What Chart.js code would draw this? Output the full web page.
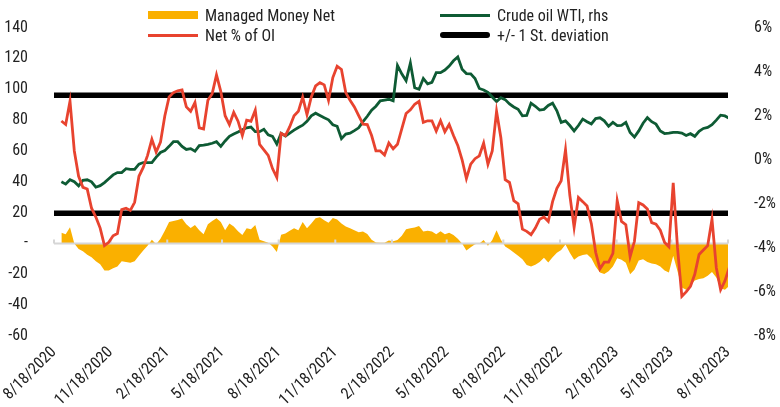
<!DOCTYPE html>
<html>
<head>
<meta charset="utf-8">
<script src="https://cdn.jsdelivr.net/npm/chart.js@4.4.0/dist/chart.umd.min.js"></script>
<style>
html, body { margin: 0; padding: 0; background: #fff; }
#wrap { position: relative; width: 780px; height: 407px; }
#myChart { position: absolute; left: 0; top: 0; }
.leg { position: absolute; display: flex; align-items: center; font-family: Roboto, sans-serif; font-stretch: condensed; font-size: 16px; color: #222; white-space: nowrap; }
.sw { width: 50px; margin-right: 7px; }
</style>
</head>
<body>
<div id="wrap">
  <canvas id="myChart" width="780" height="407"></canvas>
  <div id="legend"></div>
</div>
<script>
// weekly observations, first one 8/30/2020
var firstWeek = '8/30/2020';

var tickLabels = ['8/18/2020', '11/18/2020', '2/18/2021', '5/18/2021', '8/18/2021', '11/18/2021',
    '2/18/2022', '5/18/2022', '8/18/2022', '11/18/2022', '2/18/2023', '5/18/2023', '8/18/2023'];

// Managed Money Net (lhs)
var managedMoney = [
    7, 6, 10.5, 0, -3.5, -5, -7.3, -9, -11.5, -13.5,
    -17.5, -17.5, -16, -15, -11.5, -12, -12.5, -11.5, -8, -4.5,
    -1.5, 2.5, -0.5, 3, 8.2, 14, 14.5, 15.3, 16.2, 12.5,
    10, 12, 8.5, 6, 12.5, 14.5, 16.4, 14, 8.5, 13,
    11, 8, 5.5, 9.8, 9.3, 12, 2.5, 1.5, 0.5, -2,
    -5.5, 5.6, 6.5, 8.2, 9.9, 8.5, 14, 9.8, 13, 16.3,
    17, 15, 13.5, 16.5, 15.5, 13, 11, 9.8, 8.6, 7.3,
    7.8, 6.2, 2.5, 0.6, 0.5, 0.5, 2, 1.5, 2.2, 5,
    9.3, 9.9, 10.3, 11.4, 7.8, 8.2, 7.8, 6, 8, 6,
    7, 5.5, 3, 0, -4.5, -2.5, -0.5, 0, 2.2, -1.5,
    2.2, 8.5, 2.5, -2, -3.7, -5.8, -8, -10.3, -14, -15,
    -13.8, -12, -9.3, -12.3, -9, -6, -4.3, -0.6, -6, -10.5,
    -8.5, -7.5, -7, -9.5, -15, -18.8, -19.8, -18, -15, -9.5,
    -10.5, -12.5, -20, -17, -11, -10.3, -12, -13, -13.5, -15,
    -17.5, -18.8, -8, -18, -28.5, -30, -27, -24, -23, -22.5,
    -21, -18.5, -22, -29, -30, -27.5
];

// Crude oil WTI
var crudeWti = [
    40, 38.5, 41.3, 40, 37.4, 41, 41.3, 40, 36.5, 37.5,
    39.5, 42, 44.5, 46, 46, 48.5, 48, 48, 51.5, 52.5,
    52.5, 52.5, 56, 59, 60.2, 63, 66, 66, 63, 61,
    61.5, 59.8, 63.5, 63.8, 64.3, 65, 66, 63, 66.5, 69.5,
    71, 72.3, 73.8, 75, 75.5, 72.5, 72.5, 74, 70.5, 69.5,
    64.5, 71.4, 69.7, 71.6, 73.5, 75.2, 76.7, 79.2, 82.8, 84.5,
    83, 81.5, 80.2, 77, 76, 68, 71, 71.5, 73.2, 75,
    79, 82.5, 86.5, 89, 92.5, 93, 93.5, 92.5, 115.5, 110,
    105.5, 117, 101, 100, 107, 103.5, 104.5, 110.8, 110.8, 112.5,
    115, 118.5, 121, 113, 110.2, 110, 107, 100.5, 99.5, 98,
    95, 92, 94.5, 93.3, 90.5, 88.5, 87, 82.8, 83, 91,
    89, 86.5, 87, 89.5, 91, 86, 78.5, 79.5, 76.5, 73,
    76.5, 80.7, 79, 77.5, 81, 81.5, 79.5, 76, 78.5, 76.4,
    76.6, 78.5, 72, 69, 73, 78, 81.6, 79, 77.4, 73,
    71.3, 71.5, 72, 72, 71.6, 70, 71.2, 69.5, 72.8, 74.6,
    75.3, 77, 80, 83.2, 82.7, 81.2
];

// Net % of OI (rhs)
var netPctOi = [
    1.76, 1.6, 2.66, 0.4, -0.75, -1.25, -1.33, -2.2, -2.6, -3.1,
    -3.9, -3.75, -3.45, -3.35, -2.26, -2.2, -2.3, -1.93, -0.75, -0.35,
    0.2, 0.93, 0.35, 0.8, 1.99, 2.85, 3.05, 3.13, 3.17, 2.4,
    2.2, 2.6, 1.45, 1.4, 2.7, 3.0, 3.85, 3.1, 2.0, 1.6,
    2.15, 1.75, 1.1, 1.8, 1.75, 2.25, 0.7, 0.45, 0.2, -0.4,
    -0.8, 1.2, 1.1, 1.5, 2.0, 2.2, 2.85, 2.05, 2.85, 3.35,
    3.5, 3.4, 2.7, 3.73, 4.25, 4.1, 3.05, 2.7, 2.4, 2.0,
    1.62, 1.6, 1.1, 0.4, 0.4, 0.22, 0.76, 0.5, 0.7, 1.4,
    2.1, 2.27, 2.52, 2.65, 1.7, 1.77, 1.77, 1.3, 1.77, 1.27,
    1.6, 1.1, 0.65, 0.0, -0.85, -0.2, 0.05, 0.18, 0.76, -0.2,
    0.4, 2.2, 1.0, -0.9, -1.03, -1.86, -2.0, -3.15, -3.25, -3.4,
    -3.1, -2.7, -2.6, -2.8, -1.9, -1.3, -0.95, 0.45, -1.6, -3.07,
    -1.71, -1.9, -2.1, -2.9, -4.2, -4.95, -4.65, -4.65, -4.25, -1.85,
    -2.8, -2.95, -4.4, -3.7, -1.95, -2.05, -2.24, -2.85, -2.92, -3.2,
    -3.75, -3.95, -1.05, -4.0, -6.2, -6.0, -5.75, -5.2, -4.3, -4.1,
    -3.9, -2.7, -4.9, -5.9, -5.5, -4.9
];

// +/- 1 standard deviation of Net % of OI
var stdUpper = 2.93;
var stdLower = -2.43;

var DAY = 86400000;
function parseDate(s) {
    var p = s.split('/');
    return Date.UTC(+p[2], +p[0] - 1, +p[1]);
}
var origin = parseDate(tickLabels[0]);
var tickDays = tickLabels.map(function (s) { return (parseDate(s) - origin) / DAY; });
var start = (parseDate(firstWeek) - origin) / DAY;
var weekDays = managedMoney.map(function (v, i) { return start + 7 * i; });

function toPoints(values) {
    return values.map(function (v, i) { return { x: weekDays[i], y: v }; });
}
var xMin = tickDays[0];
var xMax = tickDays[tickDays.length - 1];

// Roboto at its condensed width (weight slot carries the stretch keyword into the canvas font string)
var TICK_FONT = { family: 'Roboto, sans-serif', size: 16, weight: 'condensed' };
var TEXT = '#222222';
var ORANGE = '#FAB000';
var RED = '#E8432F';
var GREEN = '#0E5B34';

// gray zero axis with small tick marks, drawn just above the area
var zeroAxis = {
    id: 'zeroAxis',
    afterDatasetDraw: function (chart, args) {
        if (chart.data.datasets[args.index].label !== 'Managed Money Net') return;
        var ctx = chart.ctx, area = chart.chartArea;
        var y0 = chart.scales.y.getPixelForValue(0);
        ctx.save();
        ctx.strokeStyle = '#d6d6d6';
        ctx.lineWidth = 2;
        ctx.beginPath();
        ctx.moveTo(area.left, y0);
        ctx.lineTo(area.right, y0);
        chart.scales.x.ticks.forEach(function (t) {
            var px = chart.scales.x.getPixelForValue(t.value);
            ctx.moveTo(px, y0);
            ctx.lineTo(px, y0 - 4);
        });
        ctx.stroke();
        ctx.restore();
    }
};

var ctx = document.getElementById('myChart').getContext('2d');
var myChart = new Chart(ctx, {
    type: 'line',
    data: {
        datasets: [
            {
                label: 'Net % of OI',
                data: toPoints(netPctOi),
                yAxisID: 'y1',
                borderColor: RED,
                borderWidth: 2.8,
                pointRadius: 0,
                tension: 0,
                order: 1
            },
            {
                label: 'Crude oil WTI, rhs',
                data: toPoints(crudeWti),
                yAxisID: 'y',
                borderColor: GREEN,
                borderWidth: 2.8,
                pointRadius: 0,
                tension: 0,
                order: 2
            },
            {
                label: '+/- 1 St. deviation',
                data: [{ x: xMin, y: stdUpper }, { x: xMax, y: stdUpper }],
                yAxisID: 'y1',
                borderColor: '#000000',
                borderWidth: 5.5,
                pointRadius: 0,
                order: 3
            },
            {
                label: 'lower',
                data: [{ x: xMin, y: stdLower }, { x: xMax, y: stdLower }],
                yAxisID: 'y1',
                borderColor: '#000000',
                borderWidth: 5.5,
                pointRadius: 0,
                order: 3
            },
            {
                label: 'Managed Money Net',
                data: toPoints(managedMoney),
                yAxisID: 'y',
                borderWidth: 0,
                borderColor: ORANGE,
                backgroundColor: ORANGE,
                fill: 'origin',
                pointRadius: 0,
                tension: 0,
                order: 4
            }
        ]
    },
    options: {
        responsive: false,
        animation: false,
        events: [],
        layout: { padding: { top: 26, left: 0, right: 0, bottom: 0 } },
        plugins: {
            legend: { display: false },
            tooltip: { enabled: false }
        },
        scales: {
            x: {
                type: 'linear',
                min: xMin,
                max: xMax,
                grid: { display: false },
                border: { display: false },
                afterBuildTicks: function (axis) {
                    axis.ticks = tickDays.map(function (d) { return { value: d }; });
                },
                afterFit: function (axis) { axis.height = 71; },
                ticks: {
                    autoSkip: false,
                    maxRotation: 45,
                    minRotation: 45,
                    padding: -1,
                    color: TEXT,
                    font: TICK_FONT,
                    callback: function (v) {
                        var k = tickDays.indexOf(v);
                        return k >= 0 ? tickLabels[k] : '';
                    }
                }
            },
            y: {
                position: 'left',
                min: -60,
                max: 140,
                grid: { display: false },
                border: { display: false },
                afterFit: function (axis) { axis.width = 54; },
                ticks: {
                    stepSize: 20,
                    padding: 18,
                    color: TEXT,
                    font: TICK_FONT,
                    callback: function (v) { return v === 0 ? '-' : v; }
                }
            },
            y1: {
                position: 'right',
                min: -8,
                max: 6,
                grid: { display: false },
                border: { display: false },
                afterFit: function (axis) { axis.width = 52; },
                ticks: {
                    stepSize: 2,
                    padding: 18,
                    color: TEXT,
                    font: TICK_FONT,
                    callback: function (v) { return v + '%'; }
                }
            }
        }
    },
    plugins: [zeroAxis]
});

// legend in two columns
var legendItems = [
    { label: 'Managed Money Net', color: ORANGE, h: 8, left: 148, top: 5, round: false },
    { label: 'Crude oil WTI, rhs', color: GREEN, h: 3, left: 440, top: 5, round: false },
    { label: 'Net % of OI', color: RED, h: 3, left: 148, top: 25, round: false },
    { label: '+/- 1 St. deviation', color: '#000', h: 6, left: 440, top: 25, round: true }
];
var legendBox = document.getElementById('legend');
legendItems.forEach(function (it) {
    var d = document.createElement('div');
    d.className = 'leg';
    d.style.left = it.left + 'px';
    d.style.top = it.top + 'px';
    d.style.height = '20px';
    var sw = document.createElement('span');
    sw.className = 'sw';
    sw.style.height = it.h + 'px';
    sw.style.background = it.color;
    if (it.round) sw.style.borderRadius = '3px';
    var tx = document.createElement('span');
    tx.textContent = it.label;
    d.appendChild(sw);
    d.appendChild(tx);
    legendBox.appendChild(d);
});
</script>
</body>
</html>
